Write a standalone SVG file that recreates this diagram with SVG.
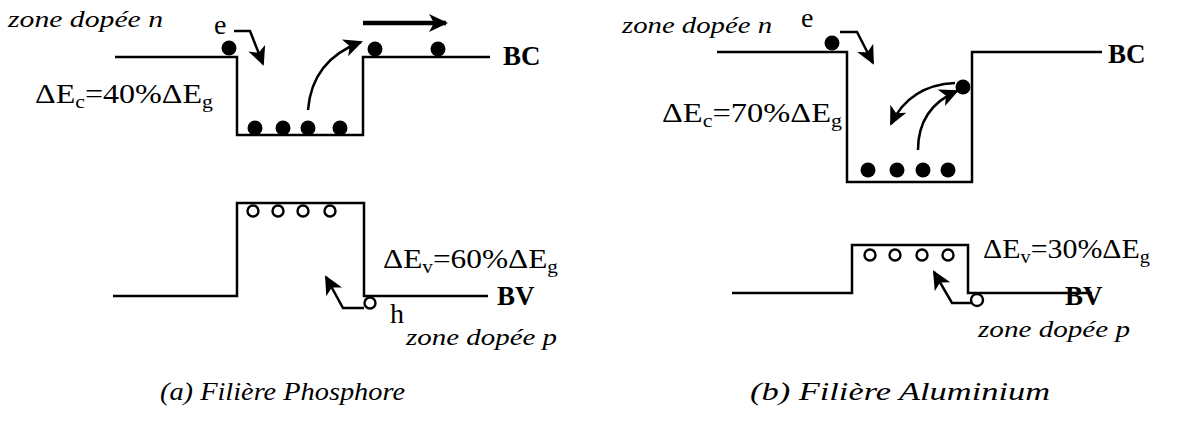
<svg xmlns="http://www.w3.org/2000/svg" width="1180" height="421" viewBox="0 0 1180 421">
<style>
.band{fill:none;stroke:#000;stroke-width:2.5}
.arr{fill:none;stroke:#000;stroke-width:2.5}
.harr{fill:none;stroke:#000;stroke-width:4.5}
.el{fill:#000}
.ho{fill:#fff;stroke:#000;stroke-width:2.4}
text{font-family:"Liberation Serif","Times New Roman",Times,serif;fill:#000}
.it{font-style:italic;font-size:24px}
.rm{font-size:28px}
.bd{font-weight:bold;font-size:27px}
.cap{font-style:italic;font-size:26px}
</style>
<defs>
<marker id="ah" markerUnits="userSpaceOnUse" markerWidth="22" markerHeight="20" refX="17" refY="9" orient="auto">
<path d="M0,0 L19,9 L0,18 L5,9 Z" fill="#000"/>
</marker>
</defs>

<g id="diagram-a">
<g id="a-bc">
<path class="band" d="M115,57 H237 V135 H363 V57 H490"/>
<text class="bd" x="503" y="65">BC</text>
</g>
<g id="a-bv">
<path class="band" d="M113,296 H237 V203 H364 V296 H488"/>
<text class="bd" x="497" y="305">BV</text>
</g>
<g id="a-labels">
<text class="it" x="8" y="27" textLength="155" lengthAdjust="spacingAndGlyphs">zone dopée n</text>
<text class="rm" x="214" y="34" font-size="26">e</text>
<text class="rm" x="35" y="103" textLength="178" lengthAdjust="spacingAndGlyphs">ΔE<tspan font-size="19" dy="5">c</tspan><tspan dy="-5">=40%ΔE</tspan><tspan font-size="19" dy="5">g</tspan></text>
<text class="rm" x="383" y="268" textLength="175" lengthAdjust="spacingAndGlyphs">ΔE<tspan font-size="19" dy="5">v</tspan><tspan dy="-5">=60%ΔE</tspan><tspan font-size="19" dy="5">g</tspan></text>
<text class="rm" x="390" y="323" font-size="26">h</text>
<text class="it" x="406" y="345" textLength="151" lengthAdjust="spacingAndGlyphs">zone dopée p</text>
</g>
<g id="a-carriers">
<circle class="el" cx="229" cy="48" r="7.5"/>
<circle class="el" cx="255" cy="128" r="7.5"/>
<circle class="el" cx="283" cy="128" r="7.5"/>
<circle class="el" cx="308" cy="128" r="7.5"/>
<circle class="el" cx="340" cy="128" r="7.5"/>
<circle class="el" cx="375" cy="49" r="7.5"/>
<circle class="el" cx="438" cy="49" r="7.5"/>
<circle class="ho" cx="253" cy="211" r="5.5"/>
<circle class="ho" cx="278" cy="211" r="5.5"/>
<circle class="ho" cx="303" cy="211" r="5.5"/>
<circle class="ho" cx="330" cy="211" r="5.5"/>
<circle class="ho" cx="370" cy="303" r="5.5"/>
</g>
</g>

<g id="diagram-b">
<g id="b-bc">
<path class="band" d="M717,52 H847 V182 H972 V52 H1102"/>
<text class="bd" x="1108" y="63">BC</text>
</g>
<g id="b-bv">
<path class="band" d="M732,293 H852 V245 H968 V293 H1092"/>
<text class="bd" x="1065" y="305">BV</text>
</g>
<g id="b-labels">
<text class="it" x="622" y="33" textLength="150" lengthAdjust="spacingAndGlyphs">zone dopée n</text>
<text class="rm" x="801" y="27" font-size="26">e</text>
<text class="rm" x="662" y="122" textLength="180" lengthAdjust="spacingAndGlyphs">ΔE<tspan font-size="19" dy="5">c</tspan><tspan dy="-5">=70%ΔE</tspan><tspan font-size="19" dy="5">g</tspan></text>
<text class="rm" x="983" y="258" textLength="167" lengthAdjust="spacingAndGlyphs">ΔE<tspan font-size="19" dy="5">v</tspan><tspan dy="-5">=30%ΔE</tspan><tspan font-size="19" dy="5">g</tspan></text>
<text class="it" x="978" y="337" textLength="152" lengthAdjust="spacingAndGlyphs">zone dopée p</text>
</g>
<g id="b-carriers">
<circle class="el" cx="832" cy="43" r="7.5"/>
<circle class="el" cx="868" cy="170" r="7.5"/>
<circle class="el" cx="897" cy="170" r="7.5"/>
<circle class="el" cx="923" cy="170" r="7.5"/>
<circle class="el" cx="948" cy="170" r="7.5"/>
<circle class="el" cx="963" cy="87" r="7.5"/>
<circle class="ho" cx="870" cy="255" r="5.5"/>
<circle class="ho" cx="895" cy="255" r="5.5"/>
<circle class="ho" cx="922" cy="255" r="5.5"/>
<circle class="ho" cx="948" cy="255" r="5.5"/>
<circle class="ho" cx="977" cy="300" r="6"/>
</g>
</g>

<g id="connectors">
<path class="arr" d="M234,31 H250 L263,64" marker-end="url(#ah)"/>
<path class="arr" d="M308,110 Q312,60 361,42" marker-end="url(#ah)"/>
<path class="harr" d="M363,23 H446" marker-end="url(#ah)"/>
<path class="arr" d="M364,308 H343 L326,277" marker-end="url(#ah)"/>
<path class="arr" d="M840,32 H857 L873,63" marker-end="url(#ah)"/>
<path class="arr" d="M955,83 Q910,85 891,124" marker-end="url(#ah)"/>
<path class="arr" d="M918,150 Q918,108 957,91" marker-end="url(#ah)"/>
<path class="arr" d="M971,303 H952 L934,272" marker-end="url(#ah)"/>
</g>

<g id="captions">
<text class="cap" x="160" y="400" textLength="245" lengthAdjust="spacingAndGlyphs">(a) Filière Phosphore</text>
<text class="cap" x="750" y="400" textLength="300" lengthAdjust="spacingAndGlyphs">(b) Filière Aluminium</text>
</g>
</svg>
